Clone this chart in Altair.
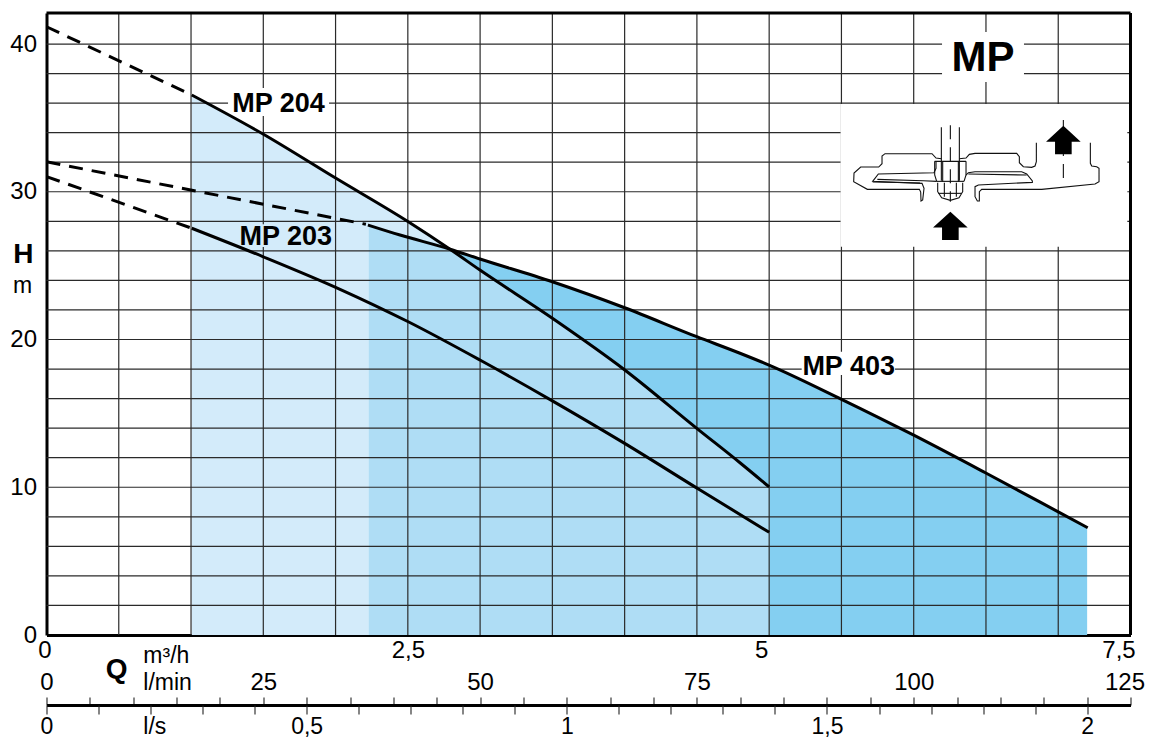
import altair as alt
import pandas as pd

FONT = "Liberation Sans"

# pump curves: flow (m3/h), head (m)
mp204_dash_q = [0.0, 1.005]
mp204_dash_h = [41.17, 36.55]
mp204_q = [1.005, 1.498, 2.003, 2.503, 2.792, 2.999, 3.5, 4.001, 4.499, 4.798, 5.0]
mp204_h = [36.55, 33.91, 30.91, 27.97, 26.11, 24.7, 21.44, 17.94, 13.99, 11.66, 10.02]

mp403_dash_q = [0.0, 2.21]
mp403_dash_h = [32.03, 27.8]
mp403_q = [2.224, 2.446, 2.792, 2.999, 3.5, 4.0, 4.499, 4.798, 4.999, 5.497, 5.997, 6.496, 6.997, 7.204]
mp403_h = [27.75, 27.07, 26.11, 25.45, 23.91, 22.15, 20.19, 19.07, 18.27, 15.97, 13.54, 10.98, 8.35, 7.26]

mp203_dash_q = [0.0, 1.005]
mp203_dash_h = [31.03, 27.53]
mp203_q = [1.005, 1.5, 2.031, 2.503, 2.999, 3.5, 4.0, 4.522, 5.0]
mp203_h = [27.53, 25.6, 23.4, 21.2, 18.61, 15.85, 12.97, 9.81, 6.95]

# shaded regions
light_q = [1.005, 1.498, 2.003, 2.503, 2.792]
light_h = [36.55, 33.91, 30.91, 27.97, 26.11]
mid_q = [2.23, 2.446, 2.792, 2.999, 3.5, 4.001, 4.499, 4.798, 5.0]
mid_h = [27.72, 27.07, 26.11, 24.7, 21.44, 17.94, 13.99, 11.66, 10.02]
dark_q = [2.792, 2.999, 3.5, 4.0, 4.499, 4.798, 4.999, 5.497, 5.997, 6.496, 6.997, 7.2]
dark_h = [26.11, 25.45, 23.91, 22.15, 20.19, 19.07, 18.27, 15.97, 13.54, 10.98, 8.35, 7.28]

grid_q = [0.5 * k for k in range(1, 15)]
grid_h = [2 * k for k in range(1, 21)]
Q_MAX, H_MAX = 7.5, 42.1

y_ticks = [0, 10, 20, 30, 40]
m3h_ticks = [0, 2.5, 5, 7.5]
lmin_ticks = [5 * k for k in range(0, 26)]
ls_ticks = [0, .1, .2, .3, .4, .5, .6, .7, .8, .9, 1, 1.1, 1.2, 1.3, 1.4, 1.5, 1.6, 1.7, 1.8, 1.9, 2]

# blanked-out patches of the grid: q1, q2, h1, h2, colour
patch_q1 = [5.494, 6.196, 1.256, 5.225, 1.464]
patch_q2 = [7.478, 6.763, 1.955, 5.871, 1.533]
patch_h1 = [35.94, 40.81, 37.02, 19.17, 27.8]
patch_h2 = [26.28, 37.43, 35.13, 17.6, 26.26]
patch_col = ["white", "white", "white", "white", "#D3EBFA"]

# annotations
note_text = ["MP 204", "MP 203", "MP 403"]
note_q = [1.605, 1.655, 5.55]
note_h = [35.93, 26.95, 18.13]

side_text = ["m", "m\u00b3/h", "l/min", "l/s"]
side_q = [-0.166, 0.67, 0.67, 0.67]
side_h = [23.6, -1.4, -3.25, -6.2]
side_align = ["center", "left", "left", "left"]

bold_text = ["H", "Q"]
bold_q = [-0.16, 0.485]
bold_h = [25.7, -2.35]

# inset pump drawing, in drawing units
inset_solid = [
    [(304,416),(288,414),(276,401),(135,401),(126,408),(126,431),(116,441),(62,441),(42,459),(41,485),(82,508),(238,508),(242,516),(243,543),(248,540),(252,505),(246,490),(98,484),(115,462),(282,458),(288,445),(288,424)],
    [(98,486),(240,489)],
    [(112,478),(250,482),(290,484)],
    [(284,424),(378,424)],
    [(284,424),(284,465),(290,484)],
    [(378,424),(378,465),(372,484)],
    [(290,484),(372,484)],
    [(304,322),(304,482)],
    [(358,322),(358,482)],
    [(308,424),(308,485)],
    [(355,424),(355,485)],
    [(293,488),(293,515),(305,533),(331,541),(357,533),(368,515),(368,488)],
    [(295,520),(365,520)],
    [(313,488),(313,530)],
    [(349,488),(349,530)],
    [(358,416),(378,414),(388,403),(405,400),(530,400),(538,410),(538,428),(550,440),(575,442),(585,438),(589,425),(589,368)],
    [(378,465),(385,458),(405,455),(545,455),(560,462),(577,483),(577,487),(415,495),(405,500),(405,530),(412,543),(418,543),(418,515),(425,508),(605,508),(765,492),(777,485),(777,445),(770,440),(755,438),(751,430),(751,368)],
    [(385,462),(560,465)],
]
inset_dashed = [
    [(331,316),(331,545)],
    [(670,300),(670,480)],
]
arrow_u = [331, 670]
arrow_v = [617.5, 360]
ARROW = "M0,-0.82L1,0.1L0.48,0.1L0.48,0.82L-0.48,0.82L-0.48,0.1L-1,0.1Z"


def dq(u):
    return (840 + u / 3 - 46.5) / 144.53


def dh(v):
    return (635 - (20 + v / 3)) / 14.775


def frame(lines):
    rows = []
    for n, line in enumerate(lines):
        for i, (u, v) in enumerate(line):
            rows.append({"id": n, "i": i, "q": dq(u), "h": dh(v)})
    return pd.DataFrame(rows)


xs = alt.Scale(domain=[0, Q_MAX], nice=False, zero=False)
ys = alt.Scale(domain=[0, H_MAX], nice=False, zero=False)
X = alt.X("q:Q", scale=xs, axis=None)
Y = alt.Y("h:Q", scale=ys, axis=None)


def area(qs, hs, col):
    return alt.Chart(pd.DataFrame({"q": qs, "h": hs})).mark_area(color=col, opacity=1, interpolate="monotone").encode(
        x=X, y=Y, y2=alt.Y2(datum=0))


def curve(qs, hs, dash=None):
    kw = {"strokeDash": dash} if dash else {"interpolate": "monotone"}
    return alt.Chart(pd.DataFrame({"q": qs, "h": hs})).mark_line(color="black", strokeWidth=3, **kw).encode(x=X, y=Y)


axis_layer = alt.Chart(pd.DataFrame({"q": [0.0], "h": [0.0]})).mark_point(opacity=0).encode(
    x=alt.X("q:Q", scale=xs, title=None, axis=alt.Axis(
        orient="bottom", values=m3h_ticks, ticks=False, grid=False, domainWidth=3, domainColor="black",
        labelFont=FONT, labelFontSize=24, labelColor="black", labelPadding=3, labelOverlap=False, labelFlush=False,
        labelExpr="replace(datum.value+'','.',',')",
        labelOffset={"condition": [{"test": "datum.value==5", "value": -8},
                                   {"test": "datum.value==7.5", "value": -12},
                                   {"test": "datum.value==0", "value": -2}], "value": 0})),
    y=alt.Y("h:Q", scale=ys, title=None, axis=alt.Axis(
        orient="left", values=y_ticks, ticks=False, grid=False, domainWidth=3, domainColor="black",
        labelFont=FONT, labelFontSize=24, labelColor="black", labelPadding=10, labelOverlap=False, labelFlush=False)),
)

grid_v = alt.Chart(pd.DataFrame({"q": grid_q})).mark_rule(color="#2a2a2a", strokeWidth=1.2).encode(x=X)
grid_h_l = alt.Chart(pd.DataFrame({"h": grid_h})).mark_rule(color="#2a2a2a", strokeWidth=1.2).encode(y=Y)

patches = alt.Chart(pd.DataFrame({"q": patch_q1, "q2": patch_q2, "h": patch_h1, "h2": patch_h2, "c": patch_col})).mark_rect().encode(
    x=X, x2="q2:Q", y=Y, y2="h2:Q", color=alt.Color("c:N", scale=None))

border_r = alt.Chart(pd.DataFrame({"q": [Q_MAX]})).mark_rule(color="black", strokeWidth=3).encode(x=X)
border_t = alt.Chart(pd.DataFrame({"h": [H_MAX]})).mark_rule(color="black", strokeWidth=3).encode(y=Y)

notes = alt.Chart(pd.DataFrame({"q": note_q, "h": note_h, "t": note_text})).mark_text(
    font=FONT, fontSize=27, fontWeight="bold", color="black", baseline="middle", align="center"
).encode(x=X, y=Y, text="t:N")

title_mark = alt.Chart(pd.DataFrame({"q": [6.48], "h": [39.05], "t": ["MP"]})).mark_text(
    font=FONT, fontSize=42, fontWeight="bold", color="black", baseline="middle", align="center"
).encode(x=X, y=Y, text="t:N")

side = alt.Chart(pd.DataFrame({"q": side_q, "h": side_h, "t": side_text, "a": side_align}))
side_c = side.transform_filter("datum.a=='center'").mark_text(font=FONT, fontSize=23, color="black", baseline="middle", align="center").encode(x=X, y=Y, text="t:N")
side_l = side.transform_filter("datum.a=='left'").mark_text(font=FONT, fontSize=23, color="black", baseline="middle", align="left").encode(x=X, y=Y, text="t:N")

bold = alt.Chart(pd.DataFrame({"q": bold_q, "h": bold_h, "t": bold_text})).mark_text(
    font=FONT, fontSize=28, fontWeight="bold", color="black", baseline="middle", align="center"
).encode(x=X, y=Y, text="t:N")

inset_a = alt.Chart(frame(inset_solid)).mark_line(color="#111", strokeWidth=1.1).encode(x=X, y=Y, detail="id:N", order="i:Q")
inset_b = alt.Chart(frame(inset_dashed)).mark_line(color="#111", strokeWidth=1.1, strokeDash=[14, 8]).encode(x=X, y=Y, detail="id:N", order="i:Q")
arrows = alt.Chart(pd.DataFrame({"q": [dq(u) for u in arrow_u], "h": [dh(v) for v in arrow_v]})).mark_point(
    shape=ARROW, size=1200, filled=True, color="black", opacity=1).encode(x=X, y=Y)

lmin_layer = alt.Chart(pd.DataFrame({"v": [0.0]})).mark_point(opacity=0).encode(
    x=alt.X("v:Q", scale=alt.Scale(domain=[0, 125], nice=False, zero=False), title=None, axis=alt.Axis(
        orient="top", offset=-692, values=lmin_ticks, grid=False, tickSize=8, tickWidth=1.1, tickColor="#222",
        domainWidth=3, domainColor="black", labelFont=FONT, labelFontSize=24, labelColor="black", labelPadding=3,
        labelOverlap=False, labelFlush=False, labelExpr="datum.value % 25 == 0 ? datum.value+'' : ''",
        labelOffset={"condition": {"test": "datum.value==125", "value": -6}, "value": 0})),
)
ls_layer = alt.Chart(pd.DataFrame({"v": [0.0]})).mark_point(opacity=0).encode(
    x=alt.X("v:Q", scale=alt.Scale(domain=[0, 125 / 60], nice=False, zero=False), title=None, axis=alt.Axis(
        orient="bottom", offset=70, values=ls_ticks, grid=False, tickSize=9, tickWidth=1.1, tickColor="#222",
        domain=False, labelFont=FONT, labelFontSize=23, labelColor="black", labelPadding=1,
        labelOverlap=False, labelFlush=False,
        labelExpr="(round(datum.value*10) % 5 == 0) ? replace(datum.value+'','.',',') : ''")),
)

chart = alt.layer(
    axis_layer,
    area(light_q, light_h, "#D3EBFA"),
    area(dark_q, dark_h, "#84CFF1"),
    area(mid_q, mid_h, "#AFDDF5"),
    grid_v, grid_h_l, patches,
    curve(mp204_dash_q, mp204_dash_h, [14, 9]), curve(mp403_dash_q, mp403_dash_h, [14, 9]), curve(mp203_dash_q, mp203_dash_h, [14, 9]),
    curve(mp204_q, mp204_h), curve(mp403_q, mp403_h), curve(mp203_q, mp203_h),
    border_r, border_t, notes, title_mark, side_c, side_l, bold, inset_a, inset_b, arrows,
    lmin_layer, ls_layer,
).resolve_scale(x="independent").resolve_axis(x="independent", y="independent").properties(
    width=1084, height=622,
    autosize=alt.AutoSizeParams(type="none"),
    padding={"left": 38.5, "top": 5, "right": 14.5, "bottom": 103},
    background="white",
).configure_view(stroke=None)

chart.save("out.html", embed_options={"renderer": "svg", "actions": False})
